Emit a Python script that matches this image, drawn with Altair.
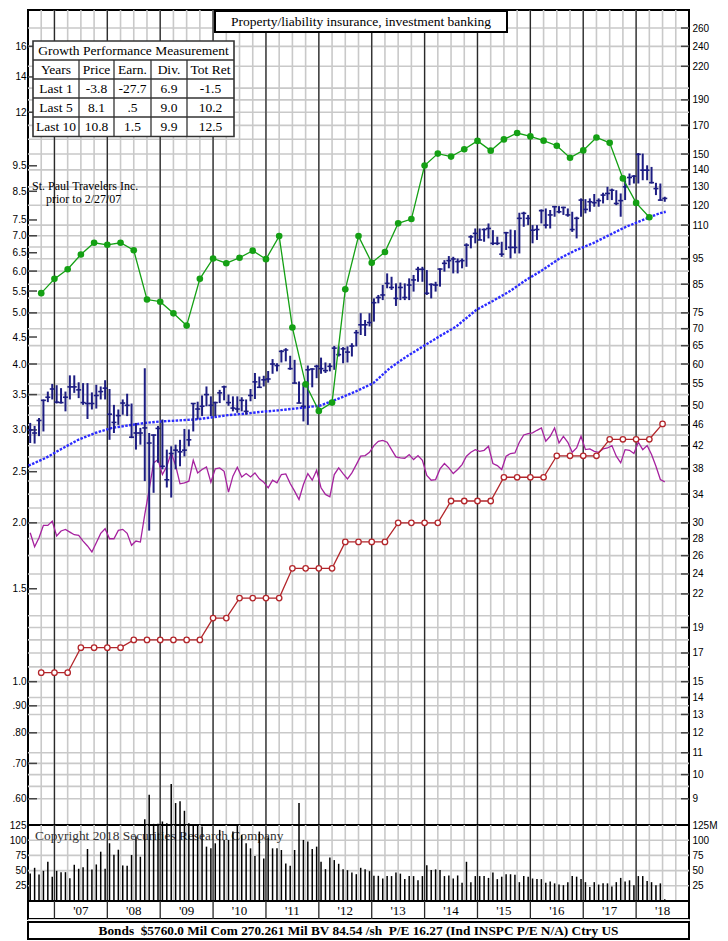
import altair as alt
import pandas as pd
import numpy as np

# ---------------- data ----------------
# monthly price bars, Jul 2006 .. Jul 2018 (dollars)
price_high = [46.4, 45.8, 47.4, 51.4, 53.2, 55.0, 54.7, 54.0, 53.2, 57.1,
              57.1, 55.4, 55.2, 55.2, 53.0, 54.8, 54.4, 55.9, 53.8, 50.2,
              49.2, 51.4, 52.7, 50.5, 46.4, 45.4, 58.9, 44.4, 44.1, 45.8,
              47.1, 41.3, 41.9, 42.2, 43.1, 45.2, 45.1, 50.6, 50.9, 52.3,
              54.4, 52.1, 50.9, 53.6, 54.6, 52.5, 52.1, 52.1, 51.9, 51.4,
              53.8, 57.7, 56.8, 57.0, 58.2, 61.3, 60.2, 63.8, 64.3, 62.2,
              61.1, 55.6, 55.2, 59.6, 58.9, 59.8, 61.7, 60.4, 60.2, 64.9,
              64.8, 64.6, 64.8, 65.7, 69.6, 74.9, 72.7, 74.9, 79.9, 81.1,
              84.7, 89.1, 87.8, 85.3, 85.6, 85.3, 87.2, 88.5, 91.7, 91.7,
              90.4, 85.3, 85.9, 91.1, 94.4, 96.1, 95.8, 95.1, 95.1, 101.6,
              105.3, 108.4, 108.4, 108.4, 110.8, 107.6, 104.6, 102.3, 106.8, 107.9,
              107.6, 116.1, 116.6, 115.0, 110.0, 110.0, 117.8, 118.3, 117.5, 119.5,
              119.5, 119.2, 118.3, 116.6, 114.1, 123.6, 123.2, 123.6, 126.0, 123.6,
              126.7, 130.0, 129.0, 128.1, 126.3, 133.8, 137.8, 136.8, 150.7, 150.3,
              142.8, 141.8, 132.3, 131.9, 124.5]
price_low = [42.5, 42.4, 43.8, 44.7, 50.8, 51.4, 50.5, 50.5, 48.8, 51.4,
             52.9, 51.7, 50.2, 47.2, 49.2, 49.4, 51.4, 51.4, 43.1, 44.4,
             46.0, 48.1, 47.8, 43.4, 41.3, 42.2, 36.0, 29.0, 34.2, 39.0,
             37.9, 35.0, 33.5, 37.9, 38.4, 40.1, 41.9, 44.7, 47.1, 47.8,
             49.9, 47.8, 47.8, 50.6, 51.2, 50.0, 48.8, 48.5, 48.8, 48.1,
             51.0, 51.5, 54.2, 54.4, 55.3, 57.5, 58.1, 60.4, 60.7, 58.5,
             55.2, 50.6, 46.7, 46.0, 54.2, 56.4, 57.5, 57.7, 58.1, 58.5,
             62.0, 60.2, 60.4, 62.0, 64.8, 68.1, 67.8, 70.7, 72.2, 78.2,
             79.3, 83.5, 82.9, 77.3, 79.3, 79.3, 79.3, 82.3, 85.9, 85.9,
             81.1, 79.9, 82.3, 84.1, 89.8, 91.1, 89.1, 89.1, 91.1, 91.7,
             99.4, 101.6, 103.1, 102.3, 103.8, 100.8, 100.8, 95.8, 98.7, 95.1,
             97.2, 97.2, 109.2, 110.0, 101.6, 103.1, 110.8, 108.4, 108.4, 114.1,
             115.8, 115.0, 114.1, 106.8, 103.8, 114.1, 115.8, 116.6, 119.2, 119.2,
             120.9, 122.7, 122.7, 120.0, 114.1, 122.7, 130.9, 131.9, 131.9, 133.8,
             133.8, 131.9, 125.4, 122.4, 121.8]
price_close = [45.0, 44.4, 46.9, 51.2, 51.9, 53.8, 50.8, 50.7, 51.9, 54.3,
               54.3, 53.6, 50.7, 50.5, 50.5, 52.3, 53.2, 54.0, 48.2, 46.5,
               47.9, 50.6, 50.1, 43.6, 44.4, 44.4, 45.4, 42.5, 44.0, 45.3,
               38.4, 36.2, 40.6, 41.2, 40.9, 41.2, 43.1, 50.5, 49.3, 49.9,
               52.5, 50.1, 50.7, 52.9, 54.3, 50.7, 49.5, 49.3, 51.2, 48.8,
               52.3, 55.5, 54.2, 56.0, 56.2, 60.0, 59.6, 63.4, 63.8, 58.8,
               55.2, 50.6, 49.9, 58.5, 58.7, 59.4, 58.8, 58.3, 59.4, 64.3,
               62.5, 64.1, 63.2, 64.9, 68.8, 71.2, 71.2, 71.9, 78.4, 80.2,
               81.1, 85.3, 83.8, 79.9, 83.8, 80.2, 84.7, 86.6, 90.7, 90.7,
               81.7, 84.9, 84.7, 90.8, 93.1, 94.2, 94.9, 93.8, 94.2, 100.8,
               104.5, 106.1, 103.1, 107.9, 108.4, 101.6, 101.6, 96.9, 106.4, 99.8,
               99.8, 113.3, 115.8, 113.3, 107.6, 107.9, 117.2, 110.0, 115.0, 119.2,
               116.6, 118.8, 115.0, 107.9, 113.3, 122.7, 117.8, 121.8, 121.3, 122.4,
               125.4, 126.3, 128.1, 120.9, 122.4, 130.0, 135.4, 136.2, 149.8, 139.8,
               139.8, 132.4, 129.0, 122.7, 123.6]

# moving average (dollars) read along the blue "x" line
ma_year = [2006.51, 2006.83, 2007.13, 2007.45, 2007.77, 2008.09, 2008.40, 2008.72,
           2009.02, 2009.34, 2009.66, 2009.96, 2010.28, 2010.60, 2010.91, 2011.23,
           2011.55, 2011.85, 2012.01, 2012.40, 2012.71, 2013.03, 2013.34, 2013.66,
           2013.97, 2014.28, 2014.60, 2014.98, 2015.29, 2015.60, 2015.92, 2016.23,
           2016.55, 2016.86, 2017.18, 2017.49, 2017.81, 2018.12, 2018.43, 2018.56]
ma_price = [38.5, 39.8, 41.4, 43.1, 44.4, 45.4, 45.9, 46.4, 46.7, 46.9,
            47.1, 47.5, 48.0, 48.3, 48.7, 49.0, 49.4, 49.8, 50.0, 51.7,
            53.3, 55.2, 58.9, 62.0, 64.8, 67.7, 70.7, 76.0, 79.0, 82.3,
            86.6, 90.4, 95.1, 98.6, 101.6, 105.3, 109.2, 112.4, 115.7, 116.6]

# quarterly earnings per share, from Q4 2006
earnings = [5.45, 5.80, 6.05, 6.45, 6.79, 6.73, 6.79, 6.57, 5.30, 5.25,
            4.99, 4.73, 5.80, 6.34, 6.21, 6.36, 6.56, 6.32, 6.99, 4.69,
            3.66, 3.26, 3.38, 5.54, 6.99, 6.22, 6.52, 7.39, 7.53, 9.51,
            10.02, 9.89, 10.21, 10.59, 10.15, 10.66, 10.96, 10.80, 10.60, 10.37,
            9.84, 10.16, 10.75, 10.50, 8.99, 8.08, 7.59]
# quarterly annual dividend rate, from Q4 2006
dividends = [1.04, 1.04, 1.04, 1.16, 1.16, 1.16, 1.16, 1.20, 1.20, 1.20,
             1.20, 1.20, 1.20, 1.32, 1.32, 1.44, 1.44, 1.44, 1.44, 1.64,
             1.64, 1.64, 1.64, 1.84, 1.84, 1.84, 1.84, 2.00, 2.00, 2.00,
             2.00, 2.20, 2.20, 2.20, 2.20, 2.44, 2.44, 2.44, 2.44, 2.68,
             2.68, 2.68, 2.68, 2.88, 2.88, 2.88, 2.88, 3.08]
# monthly relative strength line (left-scale units)
rel_strength = [1.915, 1.802, 1.874, 1.978, 1.978, 2.015, 1.888, 1.930, 1.944, 1.921,
                1.899, 1.893, 1.847, 1.808, 1.761, 1.834, 1.910, 1.949, 1.866, 1.866,
                1.935, 1.944, 1.910, 1.813, 1.847, 1.839, 2.075, 2.313, 2.598, 2.636,
                2.469, 2.561, 2.714, 2.568, 2.371, 2.381, 2.399, 2.628, 2.487, 2.524,
                2.553, 2.388, 2.531, 2.542, 2.505, 2.287, 2.452, 2.549, 2.444, 2.480,
                2.444, 2.487, 2.423, 2.388, 2.330, 2.409, 2.381, 2.469, 2.476, 2.374,
                2.297, 2.215, 2.364, 2.480, 2.409, 2.516, 2.330, 2.264, 2.241, 2.469,
                2.542, 2.480, 2.423, 2.487, 2.579, 2.675, 2.682, 2.721, 2.802, 2.855,
                2.867, 2.843, 2.753, 2.667, 2.655, 2.651, 2.694, 2.636, 2.682, 2.628,
                2.459, 2.409, 2.416, 2.531, 2.591, 2.542, 2.480, 2.524, 2.579, 2.675,
                2.721, 2.753, 2.733, 2.745, 2.794, 2.591, 2.568, 2.524, 2.675, 2.706,
                2.714, 2.843, 2.935, 2.952, 2.961, 2.995, 3.026, 2.855, 2.918, 3.026,
                2.834, 2.918, 2.843, 2.721, 2.773, 2.918, 2.753, 2.761, 2.733, 2.721,
                2.761, 2.773, 2.802, 2.675, 2.598, 2.753, 2.745, 2.706, 2.843, 2.753,
                2.802, 2.694, 2.561, 2.416, 2.392]
# monthly volume (millions of shares)
volume = [45.2, 54.6, 43.6, 49.6, 64.5, 39.7, 49.6, 47.4, 47.4, 37.5,
          59.6, 53.0, 55.7, 85.5, 51.9, 60.1, 81.1, 53.0, 95.0, 76.1,
          84.4, 58.5, 57.9, 75.6, 105.9, 72.8, 134.6, 174.9, 126.9, 126.9,
          130.8, 128.0, 192.6, 161.1, 163.9, 148.4, 128.0, 125.3, 125.3, 122.5,
          89.4, 86.6, 94.9, 117.0, 100.4, 100.4, 114.2, 125.3, 108.7, 94.9,
          86.6, 73.9, 114.2, 70.1, 104.3, 86.6, 86.6, 83.9, 61.8, 57.9,
          83.9, 161.1, 100.4, 97.7, 85.5, 89.4, 64.5, 52.4, 71.7, 67.3,
          61.2, 52.4, 50.7, 46.9, 44.1, 54.6, 52.4, 49.1, 41.4, 41.4,
          37, 41, 41, 47, 45, 36, 41, 41, 34, 41,
          59, 51, 52, 51, 41, 42, 37, 42, 30, 64.5,
          31, 41, 41, 41, 38, 47, 36, 40, 44, 44,
          43, 31, 41, 40, 37, 36, 36, 30, 32, 29,
          27, 26, 31, 41, 40, 36, 31, 23, 31, 27,
          29, 29, 24, 31, 38, 32, 34, 26, 41, 41,
          33, 31, 26, 29, 2.7]

left_ticks = [16, 14, 12, 9.5, 8.5, 7.5, 7.0, 6.5, 6.0, 5.5, 5.0, 4.5, 4.0, 3.5,
              3.0, 2.5, 2.0, 1.5, 1.0, 0.9, 0.8, 0.7, 0.6]
right_ticks = [260, 240, 220, 190, 170, 150, 140, 130, 120, 110, 95, 85, 75, 70, 65,
               60, 55, 50, 46, 42, 38, 34, 30, 28, 26, 24, 22, 19, 17, 15, 14, 13,
               12, 11, 10, 9]
grid_levels = [9, 9.5, 10, 10.5, 11, 12, 13, 13.5, 14, 15, 16, 17, 18, 19, 20, 22, 24,
               26, 28, 30, 32, 34, 36, 38, 40, 42, 44, 46, 48, 50, 52.5, 55, 60, 65,
               70, 75, 80, 85, 90, 95, 100, 105, 110, 120, 130, 140, 150, 160, 170,
               180, 190, 200, 220, 240, 260]
vol_ticks = [125, 100, 75, 50, 25]
years = list(range(2007, 2019))
year_labels = ["'07", "'08", "'09", "'10", "'11", "'12", "'13", "'14", "'15",
               "'16", "'17", "'18"]

title_text = "Property/liability insurance, investment banking"
table_header = "Growth Performance Measurement"
table_cols = ["Years", "Price", "Earn.", "Div.", "Tot Ret"]
table_rows = [["Last 1", "-3.8", "-27.7", "6.9", "-1.5"],
              ["Last 5", "8.1", ".5", "9.0", "10.2"],
              ["Last 10", "10.8", "1.5", "9.9", "12.5"]]
footer_text = ("Bonds\u00a0 $5760.0 Mil Com 270.261 Mil BV 84.54 /sh\u00a0 "
               "P/E 16.27 (Ind INSPC P/E N/A) Ctry US")
copyright_text = "Copyright 2018 Securities Research Company"

PE = 15  # price scale = 15 x per-share scale

# ---------------- frames ----------------
months = pd.date_range("2006-07-01", periods=len(price_close), freq="MS")
mt = np.asarray(months.year + (months.month - 1) / 12 + 1 / 24, dtype=float)
qe = pd.date_range("2006-10-01", periods=len(earnings), freq="QS")
qd = pd.date_range("2006-10-01", periods=len(dividends), freq="QS")
qt_e = np.asarray(qe.year + (qe.month - 1) / 12, dtype=float)
qt_d = np.asarray(qd.year + (qd.month - 1) / 12, dtype=float)

price_df = pd.DataFrame({"t": mt, "hi": np.array(price_high) / PE,
                         "lo": np.array(price_low) / PE,
                         "cl": np.array(price_close) / PE})
ma_df = pd.DataFrame({"t": ma_year, "v": np.array(ma_price) / PE})
earn_df = pd.DataFrame({"t": qt_e, "v": earnings})
div_df = pd.DataFrame({"t": qt_d, "v": dividends})
rs_df = pd.DataFrame({"t": mt, "v": rel_strength})
vol_df = pd.DataFrame({"t": mt, "v": volume, "z": 0.0})
hgrid_df = pd.DataFrame({"v": np.array(grid_levels) / PE})
lt_df = pd.DataFrame({"v": left_ticks})
rt_df = pd.DataFrame({"v": np.array(right_ticks) / PE})
qgrid_df = pd.DataFrame({"t": [q for q in np.arange(2006.75, 2019.0, 0.25)]})
year_df = pd.DataFrame({"t": years})
ylab_df = pd.DataFrame({"t": [y + 0.5 for y in years], "lab": year_labels})
vgrid_df = pd.DataFrame({"v": [25, 50, 75, 100]})
one = pd.DataFrame({"a": [0]})

# ---------------- styling ----------------
SERIF = "Liberation Serif"
NAVY = "#1d1d82"
MA_BLUE = "#2b2bff"
GREEN = "#14a014"
RED = "#b3262b"
PURPLE = "#a6229f"
GRID = "#c9c9c9"
YEAR = "#2a2a2a"

W = 661
H_MAIN = 815
H_VOL = 76
H_BAND = 18
H_FOOT = 20

xs = alt.Scale(domain=[2006.5, 2019.0], nice=False, zero=False)
ys = alt.Scale(type="log", domain=[0.535, 18.75], nice=False)
X = alt.X("t:Q", scale=xs, axis=None)

left_axis = alt.Axis(orient="left", values=left_ticks, title=None, ticks=False,
                     domain=False, grid=False, labelPadding=2,
                     labelExpr="datum.value >= 10 ? format(datum.value, 'd') : "
                               "(datum.value >= 1 ? format(datum.value, '.1f') : "
                               "replace(format(datum.value, '.2f'), '0.', '.'))")
right_axis = alt.Axis(orient="right", values=[v / PE for v in right_ticks], title=None,
                      ticks=False, domain=False, grid=False, labelPadding=3,
                      labelExpr="format(round(datum.value * 15), 'd')")

# ---------------- main panel ----------------
layers = []
layers.append(alt.Chart(hgrid_df).mark_rule(color=GRID, strokeWidth=1.6).encode(
    y=alt.Y("v:Q", scale=ys, axis=left_axis)))
layers.append(alt.Chart(qgrid_df).mark_rule(color=GRID, strokeWidth=1.6).encode(x=X))
layers.append(alt.Chart(year_df).mark_rule(color=YEAR, strokeWidth=1.3).encode(x=X))
layers.append(alt.Chart(lt_df).mark_rule(color="#444", strokeWidth=1.5).encode(
    y=alt.Y("v:Q", scale=ys, axis=None), x=alt.value(0), x2=alt.value(9)))
layers.append(alt.Chart(rt_df).mark_rule(color="#444", strokeWidth=1.5).encode(
    y=alt.Y("v:Q", scale=ys, axis=None), x=alt.value(W - 8), x2=alt.value(W)))
layers.append(alt.Chart(ma_df).mark_line(color=MA_BLUE, strokeWidth=2.4,
                                         strokeDash=[2.5, 1.4]).encode(
    x=X, y=alt.Y("v:Q", scale=ys, axis=None)))
layers.append(alt.Chart(rs_df).mark_line(color=PURPLE, strokeWidth=1.3).encode(
    x=X, y=alt.Y("v:Q", scale=ys, axis=None)))
layers.append(alt.Chart(div_df).mark_line(color=RED, strokeWidth=1.3).encode(
    x=X, y=alt.Y("v:Q", scale=ys, axis=None)))
layers.append(alt.Chart(div_df).mark_point(shape="circle", size=30, filled=True,
                                           fill="white", stroke=RED, strokeWidth=1.3,
                                           opacity=1).encode(
    x=X, y=alt.Y("v:Q", scale=ys, axis=None)))
layers.append(alt.Chart(price_df).mark_rule(color=NAVY, strokeWidth=2).encode(
    x=X, y=alt.Y("lo:Q", scale=ys, axis=right_axis), y2="hi:Q"))
layers.append(alt.Chart(price_df).mark_tick(orient="horizontal", color=NAVY, size=5,
                                            thickness=1.6, opacity=1).encode(
    x=X, y=alt.Y("cl:Q", scale=ys, axis=None)))
layers.append(alt.Chart(earn_df).mark_line(color=GREEN, strokeWidth=1.3).encode(
    x=X, y=alt.Y("v:Q", scale=ys, axis=None)))
layers.append(alt.Chart(earn_df).mark_circle(color=GREEN, size=44, opacity=1).encode(
    x=X, y=alt.Y("v:Q", scale=ys, axis=None)))

# title box
layers.append(alt.Chart(one).mark_rect(fill="white", stroke="black", strokeWidth=2).encode(
    x=alt.value(187), x2=alt.value(479), y=alt.value(1), y2=alt.value(22)))
layers.append(alt.Chart(one).mark_text(text=title_text, font=SERIF, fontSize=13.5,
                                       align="center", baseline="middle", color="black").encode(
    x=alt.value(333), y=alt.value(12)))

# growth table
TX = [5, 51, 86, 123, 159, 206]
TY = [31, 50, 69, 88, 107, 126.5]
layers.append(alt.Chart(one).mark_rect(fill="white", stroke="#333", strokeWidth=1.6).encode(
    x=alt.value(TX[0]), x2=alt.value(TX[-1]), y=alt.value(TY[0]), y2=alt.value(TY[-1])))
for yy in TY[1:-1]:
    layers.append(alt.Chart(one).mark_rule(color="#333", strokeWidth=1.3).encode(
        x=alt.value(TX[0]), x2=alt.value(TX[-1]), y=alt.value(yy), y2=alt.value(yy)))
for xx in TX[1:-1]:
    layers.append(alt.Chart(one).mark_rule(color="#333", strokeWidth=1.3).encode(
        x=alt.value(xx), x2=alt.value(xx), y=alt.value(TY[1]), y2=alt.value(TY[-1])))
layers.append(alt.Chart(one).mark_text(text=table_header, font=SERIF, fontSize=13.5,
                                       align="center", baseline="middle", color="black").encode(
    x=alt.value((TX[0] + TX[-1]) / 2), y=alt.value((TY[0] + TY[1]) / 2 + 0.5)))
for r, row in enumerate([table_cols] + table_rows):
    cy = (TY[r + 1] + TY[r + 2]) / 2 + 0.5
    for c, txt in enumerate(row):
        cx = (TX[c] + TX[c + 1]) / 2
        layers.append(alt.Chart(one).mark_text(text=txt, font=SERIF, fontSize=13.5,
                                               align="center", baseline="middle",
                                               color="black").encode(
            x=alt.value(cx), y=alt.value(cy)))

layers.append(alt.Chart(one).mark_text(text="St. Paul Travelers Inc.", font=SERIF,
                                       fontSize=12, align="left", baseline="middle",
                                       color="black").encode(
    x=alt.value(4), y=alt.value(176)))
layers.append(alt.Chart(one).mark_text(text="prior to 2/27/07", font=SERIF,
                                       fontSize=12, align="left", baseline="middle",
                                       color="black").encode(
    x=alt.value(18), y=alt.value(189)))

main = alt.layer(*layers).resolve_scale(y="independent").properties(
    width=W, height=H_MAIN, view=alt.ViewBackground(stroke="black", strokeWidth=2))

# ---------------- volume panel ----------------
vs = alt.Scale(domain=[0, 125], nice=False, zero=True)
vol_left = alt.Axis(orient="left", values=vol_ticks, title=None, ticks=False,
                    domain=False, grid=False, labelPadding=2)
vol_right = alt.Axis(orient="right", values=vol_ticks, title=None, ticks=False,
                     domain=False, grid=False, labelPadding=3,
                     labelExpr="datum.value == 125 ? '125M' : datum.value")
vol = alt.layer(
    alt.Chart(qgrid_df).mark_rule(color=GRID, strokeWidth=1.6).encode(x=X),
    alt.Chart(vgrid_df).mark_rule(color=GRID, strokeWidth=1.6).encode(
        y=alt.Y("v:Q", scale=vs, axis=vol_right)),
    alt.Chart(year_df).mark_rule(color=YEAR, strokeWidth=1.3).encode(x=X),
    alt.Chart(one).mark_text(text=copyright_text, font=SERIF, fontSize=13.4, align="left",
                             baseline="middle", color="#333").encode(
        x=alt.value(7), y=alt.value(11)),
    alt.Chart(vol_df).mark_rule(color="black", strokeWidth=1.5).encode(
        x=X, y=alt.Y("v:Q", scale=vs, axis=vol_left), y2="z:Q"),
).resolve_scale(y="independent").properties(
    width=W, height=H_VOL, view=alt.ViewBackground(stroke="black", strokeWidth=2))

# ---------------- year band ----------------
band = alt.layer(
    alt.Chart(year_df).mark_rule(color=YEAR, strokeWidth=1.3).encode(x=X),
    alt.Chart(ylab_df).mark_text(font=SERIF, fontSize=13, baseline="middle",
                                 align="center", color="black").encode(
        x=X, y=alt.value(H_BAND / 2 + 1), text="lab:N"),
).properties(width=W, height=H_BAND,
             view=alt.ViewBackground(stroke="black", strokeWidth=2))

# ---------------- footer ----------------
foot = alt.layer(
    alt.Chart(one).mark_rect(fill="white", stroke="black", strokeWidth=2).encode(
        x=alt.value(0), x2=alt.value(W), y=alt.value(3), y2=alt.value(H_FOOT)),
    alt.Chart(one).mark_text(text=footer_text, font=SERIF, fontSize=13.3, fontWeight="bold",
                             align="center", baseline="middle", color="black").encode(
        x=alt.value(W / 2), y=alt.value((3 + H_FOOT) / 2 + 0.5)),
).properties(width=W, height=H_FOOT)

chart = alt.vconcat(main, vol, band, foot, spacing=0, bounds="flush").properties(
    padding={"left": 0, "right": 0, "top": 0, "bottom": 0}
).configure_view(stroke=None).configure_axis(
    labelFont=SERIF, labelFontSize=13, labelColor="black"
).configure(background="white")

chart.save("out.html", embed_options={"renderer": "svg", "actions": False})
